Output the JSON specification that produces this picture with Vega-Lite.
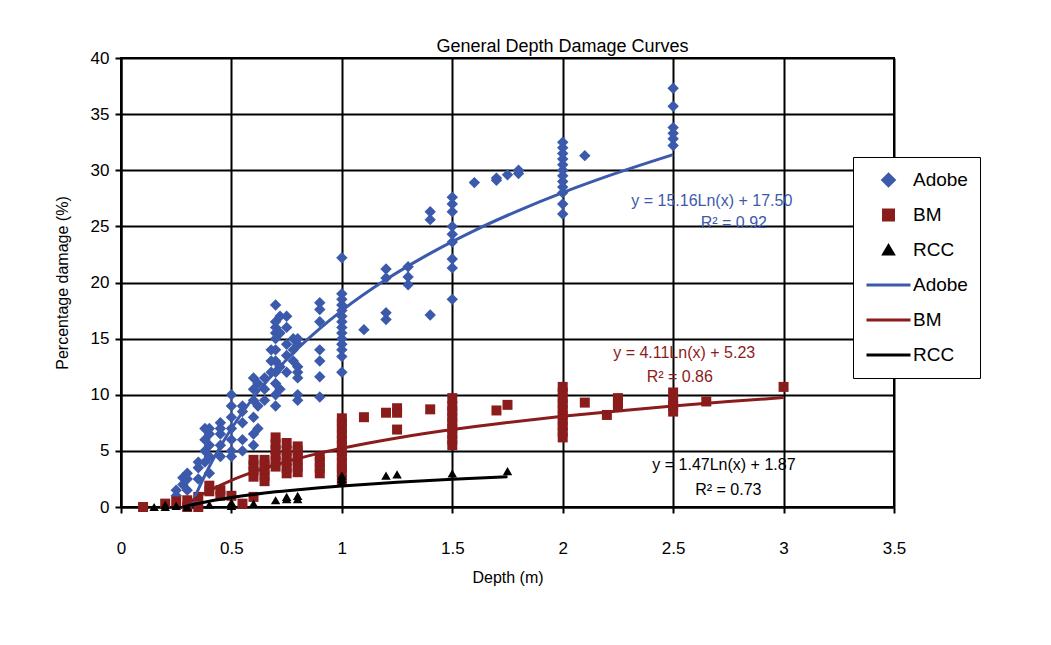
{
  "$schema": "https://vega.github.io/schema/vega-lite/v6.json",
  "autosize": {"type": "none"},
  "width": 773,
  "height": 449,
  "padding": {"left": 121, "top": 58, "right": 157, "bottom": 138},
  "background": "white",
  "title": {"text": "General Depth Damage Curves", "anchor": "middle", "dx": 55, "dy": 11, "offset": 4, "fontSize": 18, "font": "Liberation Sans", "fontWeight": "normal", "color": "black"},
  "config": {
    "font": "Liberation Sans",
    "view": {"stroke": "black", "strokeWidth": 2},
    "axis": {
      "gridColor": "black", "gridWidth": 2, "gridOpacity": 1,
      "domainColor": "black", "domainWidth": 2,
      "tickColor": "black", "tickWidth": 2, "tickSize": 6,
      "labelFont": "Liberation Sans", "labelFontSize": 17, "labelColor": "black",
      "titleFont": "Liberation Sans", "titleFontSize": 16, "titleFontWeight": "normal", "titleColor": "black"
    },
    "legend": {"symbolStrokeWidth": 3}
  },
  "datasets": {
    "pts": [
      {"s":"Adobe","x":0.25,"y":1.0},{"s":"Adobe","x":0.25,"y":1.5},
      {"s":"Adobe","x":0.28,"y":2.0},{"s":"Adobe","x":0.28,"y":2.6},
      {"s":"Adobe","x":0.3,"y":1.5},{"s":"Adobe","x":0.3,"y":2.5},{"s":"Adobe","x":0.3,"y":3.0},
      {"s":"Adobe","x":0.35,"y":2.5},{"s":"Adobe","x":0.35,"y":3.5},{"s":"Adobe","x":0.35,"y":4.0},
      {"s":"Adobe","x":0.38,"y":4.0},{"s":"Adobe","x":0.38,"y":5.0},{"s":"Adobe","x":0.38,"y":6.0},{"s":"Adobe","x":0.38,"y":7.0},
      {"s":"Adobe","x":0.4,"y":3.0},{"s":"Adobe","x":0.4,"y":4.5},{"s":"Adobe","x":0.4,"y":5.5},{"s":"Adobe","x":0.4,"y":6.5},{"s":"Adobe","x":0.4,"y":7.0},
      {"s":"Adobe","x":0.45,"y":4.5},{"s":"Adobe","x":0.45,"y":5.5},{"s":"Adobe","x":0.45,"y":6.5},{"s":"Adobe","x":0.45,"y":7.0},{"s":"Adobe","x":0.45,"y":7.5},
      {"s":"Adobe","x":0.5,"y":4.5},{"s":"Adobe","x":0.5,"y":5.0},{"s":"Adobe","x":0.5,"y":6.0},{"s":"Adobe","x":0.5,"y":7.0},{"s":"Adobe","x":0.5,"y":8.0},{"s":"Adobe","x":0.5,"y":9.0},{"s":"Adobe","x":0.5,"y":10.0},
      {"s":"Adobe","x":0.55,"y":5.0},{"s":"Adobe","x":0.55,"y":6.0},{"s":"Adobe","x":0.55,"y":7.5},{"s":"Adobe","x":0.55,"y":8.5},{"s":"Adobe","x":0.55,"y":9.0},
      {"s":"Adobe","x":0.6,"y":5.5},{"s":"Adobe","x":0.6,"y":6.5},{"s":"Adobe","x":0.6,"y":8.0},{"s":"Adobe","x":0.6,"y":9.5},{"s":"Adobe","x":0.6,"y":10.5},{"s":"Adobe","x":0.6,"y":11.5},
      {"s":"Adobe","x":0.62,"y":7.0},{"s":"Adobe","x":0.62,"y":9.0},{"s":"Adobe","x":0.62,"y":11.0},
      {"s":"Adobe","x":0.65,"y":9.5},{"s":"Adobe","x":0.65,"y":10.5},{"s":"Adobe","x":0.65,"y":11.5},
      {"s":"Adobe","x":0.68,"y":12.0},{"s":"Adobe","x":0.68,"y":13.0},{"s":"Adobe","x":0.68,"y":14.0},
      {"s":"Adobe","x":0.7,"y":9.0},{"s":"Adobe","x":0.7,"y":10.0},{"s":"Adobe","x":0.7,"y":11.0},{"s":"Adobe","x":0.7,"y":12.0},{"s":"Adobe","x":0.7,"y":13.0},{"s":"Adobe","x":0.7,"y":14.0},{"s":"Adobe","x":0.7,"y":15.0},{"s":"Adobe","x":0.7,"y":15.5},{"s":"Adobe","x":0.7,"y":16.0},{"s":"Adobe","x":0.7,"y":16.5},{"s":"Adobe","x":0.7,"y":18.0},
      {"s":"Adobe","x":0.72,"y":10.5},{"s":"Adobe","x":0.72,"y":12.5},{"s":"Adobe","x":0.72,"y":15.5},{"s":"Adobe","x":0.72,"y":17.0},
      {"s":"Adobe","x":0.75,"y":12.0},{"s":"Adobe","x":0.75,"y":13.5},{"s":"Adobe","x":0.75,"y":14.5},{"s":"Adobe","x":0.75,"y":16.0},{"s":"Adobe","x":0.75,"y":17.0},
      {"s":"Adobe","x":0.78,"y":13.0},{"s":"Adobe","x":0.78,"y":14.0},{"s":"Adobe","x":0.78,"y":15.0},
      {"s":"Adobe","x":0.8,"y":9.5},{"s":"Adobe","x":0.8,"y":10.0},{"s":"Adobe","x":0.8,"y":11.5},{"s":"Adobe","x":0.8,"y":12.0},{"s":"Adobe","x":0.8,"y":12.5},{"s":"Adobe","x":0.8,"y":14.5},{"s":"Adobe","x":0.8,"y":15.0},
      {"s":"Adobe","x":0.9,"y":9.8},{"s":"Adobe","x":0.9,"y":11.6},{"s":"Adobe","x":0.9,"y":13.0},{"s":"Adobe","x":0.9,"y":14.0},{"s":"Adobe","x":0.9,"y":16.5},{"s":"Adobe","x":0.9,"y":17.6},{"s":"Adobe","x":0.9,"y":18.2},
      {"s":"Adobe","x":1.0,"y":12.0},{"s":"Adobe","x":1.0,"y":13.4},{"s":"Adobe","x":1.0,"y":14.0},{"s":"Adobe","x":1.0,"y":14.5},{"s":"Adobe","x":1.0,"y":15.0},{"s":"Adobe","x":1.0,"y":15.5},{"s":"Adobe","x":1.0,"y":16.0},{"s":"Adobe","x":1.0,"y":16.5},{"s":"Adobe","x":1.0,"y":17.0},{"s":"Adobe","x":1.0,"y":17.5},{"s":"Adobe","x":1.0,"y":18.0},{"s":"Adobe","x":1.0,"y":18.5},{"s":"Adobe","x":1.0,"y":19.0},{"s":"Adobe","x":1.0,"y":22.2},
      {"s":"Adobe","x":1.1,"y":15.8},
      {"s":"Adobe","x":1.2,"y":16.7},{"s":"Adobe","x":1.2,"y":17.3},{"s":"Adobe","x":1.2,"y":20.4},{"s":"Adobe","x":1.2,"y":21.2},
      {"s":"Adobe","x":1.3,"y":19.8},{"s":"Adobe","x":1.3,"y":20.5},{"s":"Adobe","x":1.3,"y":21.4},
      {"s":"Adobe","x":1.4,"y":17.1},{"s":"Adobe","x":1.4,"y":25.6},{"s":"Adobe","x":1.4,"y":26.3},
      {"s":"Adobe","x":1.5,"y":18.5},{"s":"Adobe","x":1.5,"y":21.3},{"s":"Adobe","x":1.5,"y":22.1},{"s":"Adobe","x":1.5,"y":23.6},{"s":"Adobe","x":1.5,"y":24.3},{"s":"Adobe","x":1.5,"y":25.0},{"s":"Adobe","x":1.5,"y":26.3},{"s":"Adobe","x":1.5,"y":27.0},{"s":"Adobe","x":1.5,"y":27.6},
      {"s":"Adobe","x":1.6,"y":28.9},
      {"s":"Adobe","x":1.7,"y":29.1},{"s":"Adobe","x":1.7,"y":29.3},
      {"s":"Adobe","x":1.75,"y":29.6},
      {"s":"Adobe","x":1.8,"y":29.7},{"s":"Adobe","x":1.8,"y":30.0},
      {"s":"Adobe","x":2.0,"y":26.1},{"s":"Adobe","x":2.0,"y":27.0},{"s":"Adobe","x":2.0,"y":28.0},{"s":"Adobe","x":2.0,"y":28.5},{"s":"Adobe","x":2.0,"y":29.0},{"s":"Adobe","x":2.0,"y":29.5},{"s":"Adobe","x":2.0,"y":30.0},{"s":"Adobe","x":2.0,"y":30.5},{"s":"Adobe","x":2.0,"y":31.0},{"s":"Adobe","x":2.0,"y":31.5},{"s":"Adobe","x":2.0,"y":32.0},{"s":"Adobe","x":2.0,"y":32.5},
      {"s":"Adobe","x":2.1,"y":31.3},
      {"s":"Adobe","x":2.5,"y":32.2},{"s":"Adobe","x":2.5,"y":32.8},{"s":"Adobe","x":2.5,"y":33.3},{"s":"Adobe","x":2.5,"y":33.8},{"s":"Adobe","x":2.5,"y":35.7},{"s":"Adobe","x":2.5,"y":37.3},
      {"s":"BM","x":0.1,"y":0.0},{"s":"BM","x":0.2,"y":0.3},{"s":"BM","x":0.25,"y":0.5},
      {"s":"BM","x":0.3,"y":0.0},{"s":"BM","x":0.3,"y":0.6},
      {"s":"BM","x":0.35,"y":0.0},{"s":"BM","x":0.35,"y":0.9},
      {"s":"BM","x":0.4,"y":1.4},{"s":"BM","x":0.4,"y":1.9},
      {"s":"BM","x":0.45,"y":1.0},{"s":"BM","x":0.45,"y":1.5},
      {"s":"BM","x":0.5,"y":1.0},{"s":"BM","x":0.55,"y":0.3},
      {"s":"BM","x":0.6,"y":0.9},{"s":"BM","x":0.6,"y":2.7},{"s":"BM","x":0.6,"y":3.2},{"s":"BM","x":0.6,"y":3.7},{"s":"BM","x":0.6,"y":4.2},
      {"s":"BM","x":0.65,"y":2.3},{"s":"BM","x":0.65,"y":2.8},{"s":"BM","x":0.65,"y":3.3},{"s":"BM","x":0.65,"y":3.8},{"s":"BM","x":0.65,"y":4.2},
      {"s":"BM","x":0.7,"y":3.6},{"s":"BM","x":0.7,"y":4.1},{"s":"BM","x":0.7,"y":4.6},{"s":"BM","x":0.7,"y":5.1},{"s":"BM","x":0.7,"y":5.6},{"s":"BM","x":0.7,"y":6.2},
      {"s":"BM","x":0.75,"y":3.0},{"s":"BM","x":0.75,"y":3.5},{"s":"BM","x":0.75,"y":4.0},{"s":"BM","x":0.75,"y":4.5},{"s":"BM","x":0.75,"y":5.0},{"s":"BM","x":0.75,"y":5.7},
      {"s":"BM","x":0.8,"y":3.1},{"s":"BM","x":0.8,"y":3.6},{"s":"BM","x":0.8,"y":4.1},{"s":"BM","x":0.8,"y":4.6},{"s":"BM","x":0.8,"y":5.0},{"s":"BM","x":0.8,"y":5.4},
      {"s":"BM","x":0.9,"y":3.0},{"s":"BM","x":0.9,"y":3.5},{"s":"BM","x":0.9,"y":4.0},{"s":"BM","x":0.9,"y":4.5},
      {"s":"BM","x":1.0,"y":2.4},{"s":"BM","x":1.0,"y":3.1},{"s":"BM","x":1.0,"y":3.5},{"s":"BM","x":1.0,"y":4.0},{"s":"BM","x":1.0,"y":4.5},{"s":"BM","x":1.0,"y":5.0},{"s":"BM","x":1.0,"y":5.5},{"s":"BM","x":1.0,"y":6.0},{"s":"BM","x":1.0,"y":6.5},{"s":"BM","x":1.0,"y":7.0},{"s":"BM","x":1.0,"y":7.5},{"s":"BM","x":1.0,"y":7.9},
      {"s":"BM","x":1.1,"y":8.0},{"s":"BM","x":1.2,"y":8.4},
      {"s":"BM","x":1.25,"y":6.9},{"s":"BM","x":1.25,"y":8.4},{"s":"BM","x":1.25,"y":8.8},
      {"s":"BM","x":1.4,"y":8.7},
      {"s":"BM","x":1.5,"y":5.5},{"s":"BM","x":1.5,"y":6.0},{"s":"BM","x":1.5,"y":6.5},{"s":"BM","x":1.5,"y":7.0},{"s":"BM","x":1.5,"y":7.5},{"s":"BM","x":1.5,"y":8.0},{"s":"BM","x":1.5,"y":8.5},{"s":"BM","x":1.5,"y":9.0},{"s":"BM","x":1.5,"y":9.7},
      {"s":"BM","x":1.7,"y":8.6},{"s":"BM","x":1.75,"y":9.1},
      {"s":"BM","x":2.0,"y":6.2},{"s":"BM","x":2.0,"y":6.7},{"s":"BM","x":2.0,"y":7.2},{"s":"BM","x":2.0,"y":7.7},{"s":"BM","x":2.0,"y":8.2},{"s":"BM","x":2.0,"y":8.7},{"s":"BM","x":2.0,"y":9.2},{"s":"BM","x":2.0,"y":9.7},{"s":"BM","x":2.0,"y":10.2},{"s":"BM","x":2.0,"y":10.7},
      {"s":"BM","x":2.1,"y":9.3},{"s":"BM","x":2.2,"y":8.2},
      {"s":"BM","x":2.25,"y":8.9},{"s":"BM","x":2.25,"y":9.3},{"s":"BM","x":2.25,"y":9.7},
      {"s":"BM","x":2.5,"y":8.5},{"s":"BM","x":2.5,"y":9.0},{"s":"BM","x":2.5,"y":9.5},{"s":"BM","x":2.5,"y":10.2},
      {"s":"BM","x":2.65,"y":9.4},{"s":"BM","x":3.0,"y":10.7},
      {"s":"RCC","x":0.15,"y":0.0},{"s":"RCC","x":0.2,"y":0.0},{"s":"RCC","x":0.2,"y":0.2},{"s":"RCC","x":0.25,"y":0.1},{"s":"RCC","x":0.3,"y":0.0},
      {"s":"RCC","x":0.4,"y":0.2},{"s":"RCC","x":0.5,"y":0.1},{"s":"RCC","x":0.5,"y":0.4},{"s":"RCC","x":0.6,"y":0.3},
      {"s":"RCC","x":0.7,"y":0.6},{"s":"RCC","x":0.75,"y":0.7},{"s":"RCC","x":0.75,"y":0.9},{"s":"RCC","x":0.8,"y":0.7},{"s":"RCC","x":0.8,"y":1.0},
      {"s":"RCC","x":1.0,"y":2.2},{"s":"RCC","x":1.0,"y":2.5},{"s":"RCC","x":1.0,"y":2.8},
      {"s":"RCC","x":1.2,"y":2.8},{"s":"RCC","x":1.25,"y":2.9},{"s":"RCC","x":1.5,"y":3.0},{"s":"RCC","x":1.75,"y":3.2}
    ],
    "fit": [
      {"s":"Adobe trend","x":0.315,"y":0.0},{"s":"Adobe trend","x":0.35,"y":1.58},{"s":"Adobe trend","x":0.4,"y":3.61},{"s":"Adobe trend","x":0.45,"y":5.39},{"s":"Adobe trend","x":0.5,"y":6.99},{"s":"Adobe trend","x":0.6,"y":9.76},{"s":"Adobe trend","x":0.7,"y":12.09},{"s":"Adobe trend","x":0.8,"y":14.12},{"s":"Adobe trend","x":0.9,"y":15.9},{"s":"Adobe trend","x":1.0,"y":17.5},{"s":"Adobe trend","x":1.2,"y":20.26},{"s":"Adobe trend","x":1.4,"y":22.6},{"s":"Adobe trend","x":1.6,"y":24.63},{"s":"Adobe trend","x":1.8,"y":26.41},{"s":"Adobe trend","x":2.0,"y":28.01},{"s":"Adobe trend","x":2.2,"y":29.45},{"s":"Adobe trend","x":2.5,"y":31.39},
      {"s":"BM trend","x":0.28,"y":0.0},{"s":"BM trend","x":0.3,"y":0.28},{"s":"BM trend","x":0.35,"y":0.92},{"s":"BM trend","x":0.4,"y":1.46},{"s":"BM trend","x":0.5,"y":2.38},{"s":"BM trend","x":0.6,"y":3.13},{"s":"BM trend","x":0.7,"y":3.76},{"s":"BM trend","x":0.8,"y":4.31},{"s":"BM trend","x":0.9,"y":4.8},{"s":"BM trend","x":1.0,"y":5.23},{"s":"BM trend","x":1.25,"y":6.15},{"s":"BM trend","x":1.5,"y":6.9},{"s":"BM trend","x":1.75,"y":7.53},{"s":"BM trend","x":2.0,"y":8.08},{"s":"BM trend","x":2.25,"y":8.56},{"s":"BM trend","x":2.5,"y":9.0},{"s":"BM trend","x":2.75,"y":9.39},{"s":"BM trend","x":3.0,"y":9.75},
      {"s":"RCC trend","x":0.28,"y":0.0},{"s":"RCC trend","x":0.3,"y":0.1},{"s":"RCC trend","x":0.4,"y":0.52},{"s":"RCC trend","x":0.5,"y":0.85},{"s":"RCC trend","x":0.6,"y":1.12},{"s":"RCC trend","x":0.7,"y":1.35},{"s":"RCC trend","x":0.8,"y":1.54},{"s":"RCC trend","x":0.9,"y":1.72},{"s":"RCC trend","x":1.0,"y":1.87},{"s":"RCC trend","x":1.25,"y":2.2},{"s":"RCC trend","x":1.5,"y":2.47},{"s":"RCC trend","x":1.75,"y":2.69}
    ],
    "eq": [
      {"s":"Adobe","x":2.675,"y":27.3,"t":"y = 15.16Ln(x) + 17.50"},
      {"s":"Adobe","x":2.775,"y":25.3,"t":"R² = 0.92"},
      {"s":"BM","x":2.55,"y":13.75,"t":"y = 4.11Ln(x) + 5.23"},
      {"s":"BM","x":2.53,"y":11.6,"t":"R² = 0.86"},
      {"s":"RCC","x":2.73,"y":3.75,"t":"y = 1.47Ln(x) + 1.87"},
      {"s":"RCC","x":2.75,"y":1.5,"t":"R² = 0.73"}
    ]
  },
  "layer": [
    {
      "data": {"name": "pts"},
      "mark": {"type": "point", "filled": true, "opacity": 1},
      "encoding": {
        "x": {"field": "x", "type": "quantitative", "scale": {"domain": [0, 3.5], "nice": false}, "axis": {"values": [0, 0.5, 1, 1.5, 2, 2.5, 3, 3.5], "format": "~g", "title": "Depth (m)", "labelPadding": 27, "titlePadding": 13, "labelFlush": false}},
        "y": {"field": "y", "type": "quantitative", "scale": {"domain": [0, 40], "nice": false}, "axis": {"values": [0, 5, 10, 15, 20, 25, 30, 35, 40], "title": "Percentage damage (%)", "labelPadding": 6, "titlePadding": 20, "labelFlush": false}},
        "color": {
          "field": "s", "type": "nominal",
          "scale": {"domain": ["Adobe", "BM", "RCC", "Adobe trend", "BM trend", "RCC trend"], "range": ["#3c5aab", "#8b1c1c", "#000000", "#3c5aab", "#8b1c1c", "#000000"]},
          "legend": {
            "title": null, "orient": "none", "legendX": 732, "legendY": 99,
            "strokeColor": "black", "fillColor": "white",
            "padding": 12, "rowPadding": 13, "clipHeight": 22,
            "labelFontSize": 19, "labelFont": "Liberation Sans", "labelColor": "black", "labelOffset": 1,
            "labelExpr": "replace(datum.label, ' trend', '')",
            "encode": {
              "legend": {"strokeWidth": {"value": 2}},
              "symbols": {"stroke": {"signal": "scale('color', datum.value)"}}
            }
          }
        },
        "shape": {
          "field": "s", "type": "nominal",
          "scale": {"domain": ["Adobe", "BM", "RCC", "Adobe trend", "BM trend", "RCC trend"], "range": ["diamond", "square", "triangle-up", "stroke", "stroke", "stroke"]},
          "legend": {
            "title": null, "orient": "none", "legendX": 732, "legendY": 99,
            "strokeColor": "black", "fillColor": "white",
            "padding": 12, "rowPadding": 13, "clipHeight": 22,
            "labelFontSize": 19, "labelFont": "Liberation Sans", "labelColor": "black", "labelOffset": 1,
            "labelExpr": "replace(datum.label, ' trend', '')",
            "encode": {
              "legend": {"strokeWidth": {"value": 2}},
              "symbols": {"stroke": {"signal": "scale('color', datum.value)"}}
            }
          }
        },
        "size": {
          "field": "s", "type": "nominal",
          "scale": {"type": "ordinal", "domain": ["Adobe", "BM", "RCC", "Adobe trend", "BM trend", "RCC trend"], "range": [130, 100, 90, 1936, 1936, 1936]},
          "legend": {
            "title": null, "orient": "none", "legendX": 732, "legendY": 99,
            "strokeColor": "black", "fillColor": "white",
            "padding": 12, "rowPadding": 13, "clipHeight": 22,
            "labelFontSize": 19, "labelFont": "Liberation Sans", "labelColor": "black", "labelOffset": 1,
            "labelExpr": "replace(datum.label, ' trend', '')",
            "encode": {
              "legend": {"strokeWidth": {"value": 2}},
              "symbols": {"stroke": {"signal": "scale('color', datum.value)"}}
            }
          }
        }
      }
    },
    {
      "data": {"name": "fit"},
      "mark": {"type": "line", "strokeWidth": 3, "interpolate": "monotone"},
      "encoding": {
        "x": {"field": "x", "type": "quantitative"},
        "y": {"field": "y", "type": "quantitative"},
        "color": {"field": "s", "type": "nominal"}
      }
    },
    {
      "data": {"name": "eq"},
      "mark": {"type": "text", "fontSize": 16, "font": "Liberation Sans", "align": "center", "baseline": "middle"},
      "encoding": {
        "x": {"field": "x", "type": "quantitative"},
        "y": {"field": "y", "type": "quantitative"},
        "text": {"field": "t"},
        "color": {"field": "s", "type": "nominal", "legend": null}
      }
    }
  ]
}
